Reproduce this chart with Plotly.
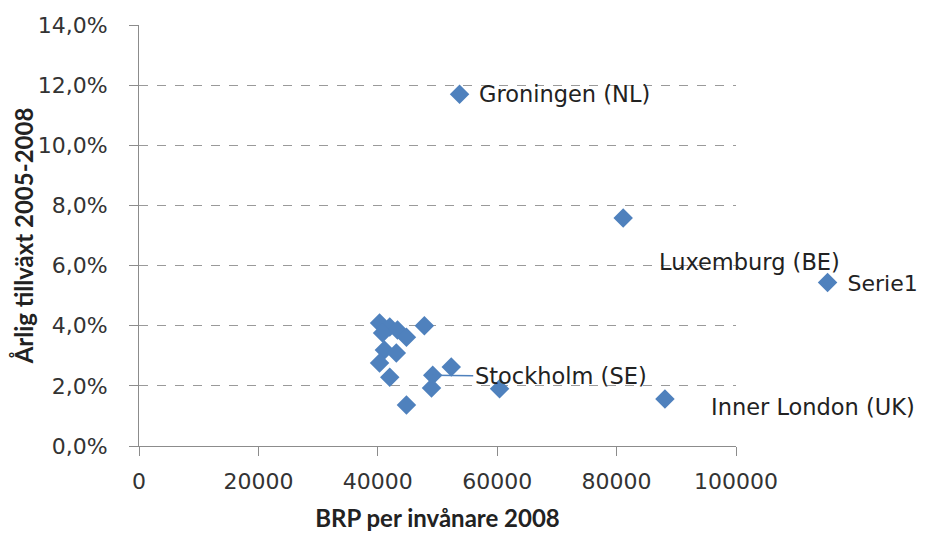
import plotly.graph_objects as go

# Data
brp = [53700, 81100, 88100, 60400, 40300, 42000, 47800, 43300, 44800, 40800,
       41100, 43100, 40300, 42000, 49200, 52300, 49000, 44800]
growth = [0.117, 0.0758, 0.0156, 0.0190, 0.0409, 0.0396, 0.0400, 0.0386, 0.0362, 0.0376,
          0.0319, 0.0309, 0.0276, 0.0229, 0.0235, 0.0263, 0.0193, 0.0136]

label_names = ["Groningen (NL)", "Luxemburg (BE)", "Inner London (UK)", "Stockholm (SE)"]
label_index = [0, 1, 2, 14]

y_ticks = [0, 0.02, 0.04, 0.06, 0.08, 0.10, 0.12, 0.14]
y_tick_text = ["0,0%", "2,0%", "4,0%", "6,0%", "8,0%", "10,0%", "12,0%", "14,0%"]
x_ticks = [0, 20000, 40000, 60000, 80000, 100000]
x_tick_text = ["0", "20000", "40000", "60000", "80000", "100000"]

BLUE = "#4F81BD"
FONT = "DejaVu Sans"
TFONT = "Lato"

fig = go.Figure()
fig.add_trace(go.Scatter(
    x=brp, y=growth, mode="markers", name="Serie1",
    marker=dict(symbol="diamond", size=15, color=BLUE, line=dict(width=0)),
    showlegend=True,
))

# label placement offsets (pixels)
offsets = {
    "Groningen (NL)": dict(xshift=17, yshift=0),
    "Luxemburg (BE)": dict(xshift=34, yshift=-44),
    "Inner London (UK)": dict(xshift=44, yshift=-8),
}
for name, idx in zip(label_names, label_index):
    if name in offsets:
        fig.add_annotation(x=brp[idx], y=growth[idx], text=name, showarrow=False,
                           xanchor="left", yanchor="middle",
                           font=dict(family=FONT, size=22.5, color="#222"),
                           **offsets[name])
    else:
        fig.add_annotation(x=brp[idx], y=growth[idx], text=name, showarrow=True,
                           arrowhead=0, arrowwidth=1.5, arrowcolor=BLUE,
                           ax=128, ay=1, standoff=0,
                           font=dict(family=FONT, size=22.5, color="#222"))

fig.update_layout(
    width=927, height=533,
    margin=dict(l=131, r=198, t=17, b=95),
    plot_bgcolor="white", paper_bgcolor="white",
    font=dict(family=FONT, size=22, color="#333"),
    xaxis=dict(
        range=[0, 100000], tickvals=x_ticks, ticktext=x_tick_text,
        showgrid=False, zeroline=False, showline=True, linecolor="#8c8c8c", linewidth=1,
        ticks="outside", ticklen=9, tickcolor="#8c8c8c", ticklabelstandoff=7,
        tickfont=dict(family=FONT, size=22, color="#333"),
        title=dict(text="<b>BRP per invånare 2008</b>", standoff=16,
                   font=dict(family=TFONT, size=24, color="#222")),
        automargin=False,
    ),
    yaxis=dict(
        range=[0, 0.14], tickvals=y_ticks, ticktext=y_tick_text,
        showgrid=True, gridcolor="#9a9a9a", griddash="dash", gridwidth=1,
        zeroline=False, showline=True, linecolor="#8c8c8c", linewidth=1,
        ticks="outside", ticklen=9, tickcolor="#8c8c8c", ticklabelstandoff=17,
        tickfont=dict(family=FONT, size=22, color="#333"),
        title=dict(text="<b>Årlig tillväxt 2005-2008</b>", standoff=6,
                   font=dict(family=TFONT, size=24, color="#222")),
        automargin=False,
    ),
    legend=dict(x=1.118, y=0.388, xanchor="left", yanchor="middle",
                font=dict(family=FONT, size=22, color="#222"),
                bgcolor="rgba(0,0,0,0)", itemwidth=30),
)

fig.write_html("out.html")
